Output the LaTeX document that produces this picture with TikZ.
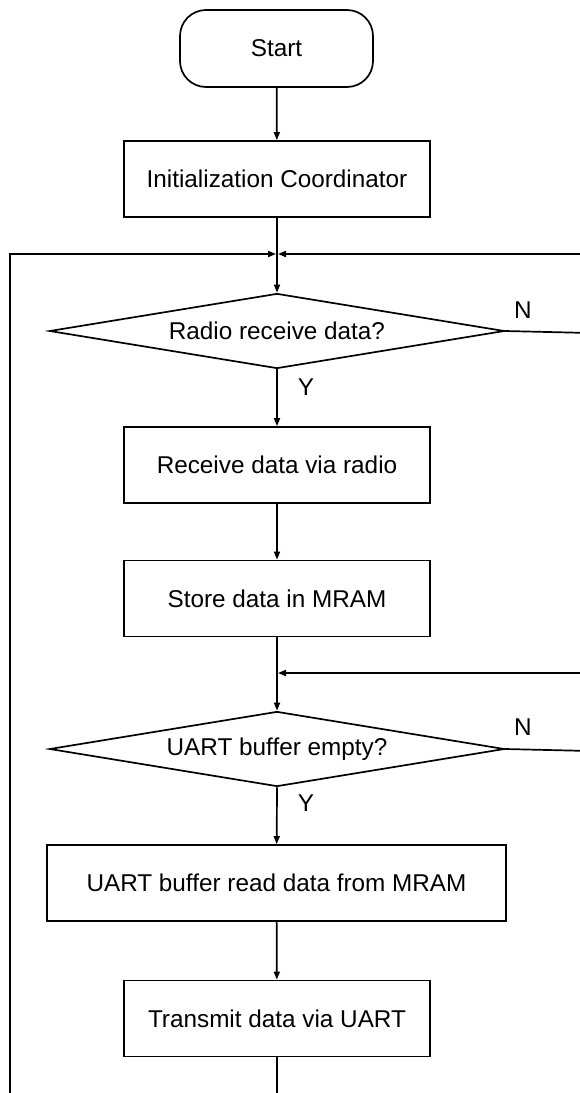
\documentclass[tikz,border=0pt]{standalone}
\usepackage{fontspec}
\setmainfont{Liberation Sans}
\usetikzlibrary{shapes.geometric,arrows.meta}
\begin{document}
\begin{tikzpicture}[x=1pt,y=-1pt, line width=1.7pt,
  font=\fontsize{24.3}{28}\selectfont,
  box/.style={draw, rectangle, minimum width=306pt, minimum height=76pt, inner sep=0pt},
  dec/.style={draw, diamond, minimum width=455pt, minimum height=75pt, inner sep=0pt, aspect=6},
  term/.style={draw, rectangle, rounded corners=26pt, minimum width=193pt, minimum height=77pt, inner sep=0pt},
  arr/.style={-{Triangle[length=8pt,width=6pt]}},
  lbl/.style={inner sep=0pt}]
\useasboundingbox (0,0) rectangle (580,1093);
\node[term] (start) at (276.5,48.5) {Start};
\node[box] (init) at (277,179) {Initialization Coordinator};
\coordinate (j1) at (277,254);
\node[dec] (d1) at (277,331) {Radio receive data?};
\node[box] (recv) at (277,465) {Receive data via radio};
\node[box] (store) at (277,598.5) {Store data in MRAM};
\coordinate (j2) at (277,673);
\node[dec] (d2) at (277,749) {UART buffer empty?};
\node[box, minimum width=459pt] (uart) at (276.5,883) {UART buffer read data from MRAM};
\node[box] (tx) at (277,1018.5) {Transmit data via UART};
\coordinate (lb) at (10,1100);
\coordinate (lt) at (10,254);
\coordinate (rt) at (590,254);
\coordinate (rb1) at (590,333);
\coordinate (rt2) at (590,673);
\coordinate (rb2) at (590,751);
\coordinate (bot) at (277,1100);
\node[lbl] (n1) at (523,310) {N};
\node[lbl] (y1) at (306,387) {Y};
\node[lbl] (n2) at (523,727) {N};
\node[lbl] (y2) at (306,803) {Y};
\draw[arr] (start) -- (init);
\draw[arr] (init) -- (d1.north);
\draw[arr, shorten >=1pt] (lb) -- (lt) -- (j1);
\draw[arr, shorten >=1pt] (rt) -- (j1);
\draw (d1.east) -- (rb1);
\draw[arr] (d1.south) -- (recv);
\draw[arr] (recv) -- (store);
\draw[arr] (store) -- (d2.north);
\draw[arr, shorten >=1pt] (rt2) -- (j2);
\draw (d2.east) -- (rb2);
\draw[arr] (d2.south) -- (uart);
\draw[arr] (uart) -- (tx);
\draw (tx) -- (bot);
\end{tikzpicture}
\end{document}
